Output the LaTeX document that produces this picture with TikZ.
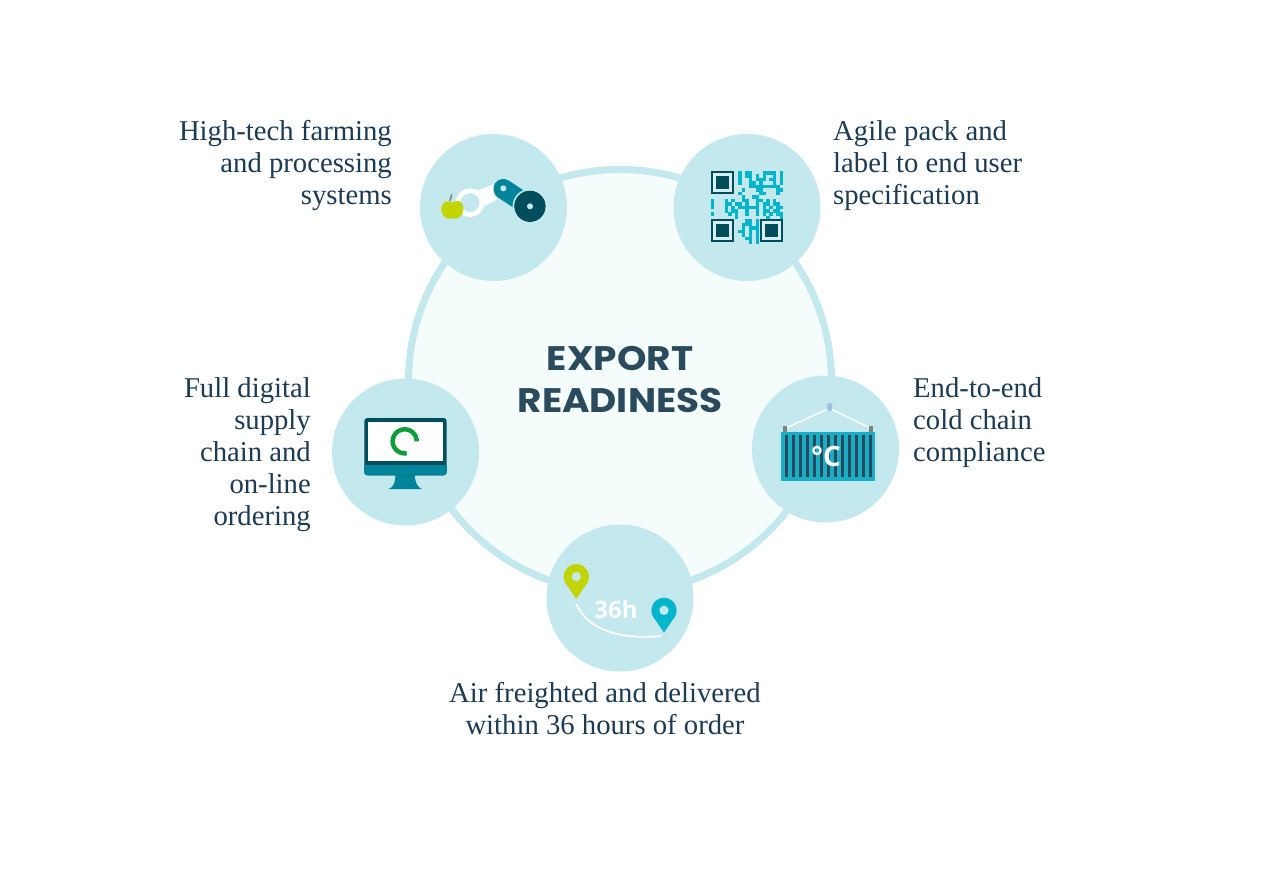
\documentclass[tikz,border=0pt]{standalone}
\usepackage{fontspec}
\setmainfont{Liberation Serif}
\newfontfamily\titlefont{Poppins}[FakeStretch=1.1]
\newfontfamily\iconfont{Open Sans}
\usetikzlibrary{calc}
\definecolor{ringc}{HTML}{C3E8EE}
\definecolor{discc}{HTML}{F5FCFC}
\definecolor{textc}{HTML}{1D3B52}
\definecolor{titlec}{HTML}{2A4A5E}
\definecolor{darkc}{HTML}{004D5C}
\definecolor{tealc}{HTML}{00849A}
\definecolor{bluec}{HTML}{00B5CC}
\definecolor{limec}{HTML}{C3D500}
\definecolor{boxc}{HTML}{1AAEC6}
\definecolor{greenc}{HTML}{0F9D3A}
\definecolor{hookc}{HTML}{A0C4E0}
\tikzset{
  x=1pt,y=-1pt,
  bubble/.style={circle,fill=ringc,draw=none,minimum size=147pt,inner sep=0pt},
  lbl/.style={font=\fontsize{28.7}{32}\selectfont,text=textc,inner sep=0pt},
  titletxt/.style={font=\titlefont\bfseries\fontsize{34}{42}\selectfont,text=titlec,inner sep=0pt,align=center},
  zoomed/.style={scale=0.33333},
}
\newcommand{\mypin}[2]{%
  \fill[#2] (#1) circle[radius=38];
  \fill[#2] ($(#1)+(-35,15)$) -- ($(#1)+(0,67)$) -- ($(#1)+(35,15)$) -- cycle;
}
\begin{document}
\begin{tikzpicture}
\useasboundingbox (0,0) rectangle (1282,869);
\fill[white] (0,0) rectangle (1282,869);
\node[circle,fill=discc,draw=ringc,line width=7pt,minimum size=423pt,inner sep=0pt] (disc) at (620,381) {};
\node[bubble] (b1) at (493.5,207.5) {};
\node[bubble] (b2) at (747,207.5) {};
\node[bubble] (b3) at (825.5,449) {};
\node[bubble] (b4) at (620,598) {};
\node[bubble] (b5) at (405.5,452) {};
\node[titletxt] (title) at (620,379.5) {EXPORT\\READINESS};
% robot
\begin{scope}[shift={(420,130)},zoomed]
  \fill[white] (165,185) -- (220,163) -- (232,208) -- (180,235) -- cycle;
  \fill[ringc] (150,218) circle[radius=30];
  \draw[white,line width=4.7pt] (150,218) circle[radius=36];
  \draw[tealc,line width=20pt,line cap=round] (250,177) -- (300,210);
  \fill[ringc] (250,175) circle[radius=9];
  \fill[darkc] (330,229) circle[radius=47];
  \draw[ringc,line width=1.5pt] (330,229) circle[radius=50];
  \fill[ringc] (330,229) circle[radius=9];
  \fill[limec] (97,218) .. controls (110,208) and (130,210) .. (130,238) .. controls (130,258) and (115,270) .. (97,265) .. controls (80,272) and (64,258) .. (64,238) .. controls (64,212) and (85,210) .. (97,218) -- cycle;
  \draw[gray,line width=1.5pt] (90,213) -- (95,193);
\end{scope}
% qr
\begin{scope}[shift={(710.7,171)},x=3.457pt,y=-3.457pt]
  \foreach \r/\cl in {
    0/{8,10,11,15,16,17,18,20},
    1/{8,10,11,13,15,18,20},
    2/{8,11,13,14,15,17,18,20},
    3/{8,11,12,14,18,20},
    4/{11,12,13,14,15,16,17,18,19},
    5/{9,13,14,19,20},
    6/{8,14,15,19},
    7/{9,12,13},
    8/{0,4,6,9,10,13,14,16,18},
    9/{0,4,5,7,8,10,13,15,16,18,19},
    10/{0,4,6,8,9,10,11,12,13,15,17,19,20},
    11/{4,6,7,10,13,15,16,18,19},
    12/{0,5,7,10,13,15,17,19,20},
    13/{7,16,20},
    14/{10,11,13},
    15/{9,10,11,13},
    16/{9,11,12,13},
    17/{8,9,11,13},
    18/{9,11,13},
    19/{10,11,13},
    20/{11,13}}{
    \foreach \c in \cl { \fill[bluec] (\c,\r) rectangle ++(1.02,1.02); }
  }
\end{scope}
\begin{scope}[shift={(675,135)},zoomed]
  \foreach \fx/\fy in {107/108,107/251,255/251}{
    \fill[darkc] (\fx,\fy) rectangle ++(70,70);
    \fill[ringc!70!white] (\fx+6,\fy+6) rectangle ++(58,58);
    \fill[darkc] (\fx+15,\fy+15) rectangle ++(40,40);
  }
\end{scope}
% container
\begin{scope}[shift={(752,375)},zoomed]
  \draw[white,line width=1.5pt] (100,160) -- (232,100) -- (357,160);
  \fill[hookc,rounded corners=1.5pt] (225,84) rectangle (240,108);
  \fill[gray] (94,154) rectangle (106,172);
  \fill[gray] (351,154) rectangle (363,172);
  \fill[boxc] (88,170) rectangle (370,317);
  \foreach \k in {0,...,12}{ \fill[titlec] ({98+\k*21},180) rectangle ++(11,126); }
  \node[font=\iconfont\bfseries\fontsize{28}{28}\selectfont,text=white,inner sep=0pt] (deg) at (222,245) {°C};
\end{scope}
% pins
\begin{scope}[shift={(547,525)},zoomed]
  \coordinate (pa) at (88,155);
  \coordinate (pb) at (351,256);
  \mypin{pa}{limec}
  \mypin{pb}{bluec}
  \fill[ringc] (pa) circle[radius=14];
  \fill[ringc] (pb) circle[radius=14];
  \draw[white,line width=1.8pt] (88,237) .. controls (120,310) and (210,345) .. (343,333);
  \node[font=\iconfont\bfseries\fontsize{24}{24}\selectfont,text=white,inner sep=0pt] (hours) at (207,254) {36h};
\end{scope}
% monitor
\begin{scope}[shift={(332,378)},zoomed]
  \fill[tealc] (190,290) -- (248,290) .. controls (250,315) and (256,328) .. (270,333) -- (170,333) .. controls (184,328) and (190,315) .. (190,290) -- cycle;
  \fill[darkc,rounded corners=3pt] (97,120) rectangle (344,292);
  \fill[tealc,rounded corners=3pt] (97,262) rectangle (344,292);
  \fill[tealc] (97,262) rectangle (344,275);
  \fill[white] (107,133) rectangle (333,250);
  \draw[greenc,line width=4.5pt] plot[domain=0:280,samples=50] ({218+36*cos(\x)},{190-36*sin(\x)});
\end{scope}
% labels
\node[lbl,align=right,anchor=north east] (t1) at (392,120.5) {High-tech farming\\and processing\\systems};
\node[lbl,align=left,anchor=north west] (t2) at (833,120.5) {Agile pack and\\label to end user\\specification};
\node[lbl,align=left,anchor=north west] (t3) at (913,377.5) {End-to-end\\cold chain\\compliance};
\node[lbl,align=center,anchor=north] (t4) at (605,682) {Air freighted and delivered\\within 36 hours of order};
\node[lbl,align=right,anchor=north east] (t5) at (311,377.5) {Full digital\\supply\\chain and\\on-line\\ordering};
\end{tikzpicture}
\end{document}
